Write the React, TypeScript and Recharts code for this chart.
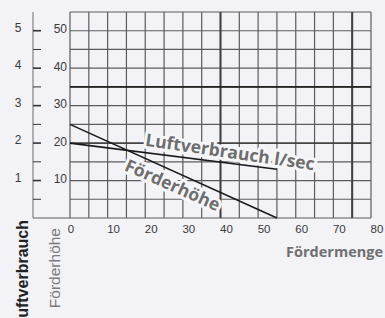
import { LineChart, Line, XAxis, YAxis, CartesianGrid, ReferenceLine, ReferenceDot } from 'recharts';

// Fördermenge axis (bottom), Förderhöhe axis (inner left), Luftverbrauch l/sec axis (outer left)
const flowTicks = [0, 5, 10, 15, 20, 25, 30, 35, 40, 45, 50, 55, 60, 65, 70, 75, 80];
const headTicks = [0, 5, 10, 15, 20, 25, 30, 35, 40, 45, 50, 55];
const airTicks = [0, 0.5, 1, 1.5, 2, 2.5, 3, 3.5, 4, 4.5, 5];

// curves
const flow = [0, 55];
const head = [25, 0];
const airUse = [2.0, 1.3];

// where the curve captions sit (Fördermenge, Förderhöhe)
const airCaption = { flow: 42.3, head: 16, angle: 8.3 };
const headCaption = { flow: 26.6, head: 7.3, angle: 24 };

const BG = '#f2f2f7';
const HALO = '#f6f6f9';
const GRID = '#5c5c5c';

const rows = flow.map((f, i) => ({ flow: f, head: head[i], air: airUse[i] }));

function FlowTick({ x, payload }: any) {
  const v = payload.value;
  if (v % 10 !== 0) return null;
  return (
    <text x={x + (v === 0 ? 1 : 6)} y={233} textAnchor="middle" fontSize={11.5} fill="#3a3a3a" fontFamily="Liberation Sans, Arial, sans-serif">
      {v}
    </text>
  );
}

function HeadTick({ y, payload }: any) {
  const v = payload.value;
  if (v % 10 !== 0 || v === 0) return null;
  return (
    <text x={67} y={y + 2.5} textAnchor="end" fontSize={12} fill="#3a3a3a" fontFamily="Liberation Sans, Arial, sans-serif">
      {v}
    </text>
  );
}

function AirTick({ y, payload }: any) {
  const v = payload.value;
  if (v === 0) return <line x1={33} x2={70} y1={y} y2={y} stroke={GRID} strokeWidth={1.2} />;
  const major = Number.isInteger(v);
  return (
    <g>
      <line x1={33} x2={41} y1={y} y2={y} stroke="#333" strokeWidth={major ? 1.6 : 1} />
      {major && (
        <text x={18} y={y + 1} textAnchor="middle" fontSize={12} fill="#3a3a3a" fontFamily="Liberation Sans, Arial, sans-serif">
          {v}
        </text>
      )}
    </g>
  );
}

function caption(text: string, angle: number) {
  return (props: any) => {
    const { viewBox } = props;
    const cx = viewBox.x + viewBox.width / 2;
    const cy = viewBox.y + viewBox.height / 2;
    return (
      <text
        x={cx}
        y={cy}
        transform={`rotate(${angle}, ${cx}, ${cy})`}
        textAnchor="middle"
        fontSize={17.5}
        fontWeight={700}
        fill="#6e6e6e"
        stroke={HALO}
        strokeWidth={6}
        strokeLinejoin="round"
        paintOrder="stroke"
        fontFamily="Open Sans, sans-serif"
      >
        {text}
      </text>
    );
  };
}

export default function App() {
  return (
    <div style={{ position: 'absolute', left: 0, top: 0, width: 385, height: 318, background: BG, overflow: 'hidden' }}>
      <LineChart width={385} height={318} data={rows} margin={{ top: 12, right: 14, bottom: 70, left: 0 }}>
        <CartesianGrid stroke={GRID} strokeWidth={1.2} />
        <XAxis
          dataKey="flow"
          type="number"
          domain={[0, 80]}
          ticks={flowTicks}
          interval={0}
          tick={<FlowTick />}
          tickLine={false}
          axisLine={false}
          height={30}
          label={{
            content: () => (
              <text x={383} y={257} textAnchor="end" fontSize={14.5} fontWeight={700} fill="#707070" fontFamily="Open Sans, sans-serif">
                Fördermenge
              </text>
            ),
          }}
        />
        <YAxis
          type="number"
          domain={[0, 55]}
          ticks={headTicks}
          interval={0}
          tick={<HeadTick />}
          tickLine={false}
          axisLine={false}
          width={37}
          label={{
            content: () => (
              <text transform="translate(60,228) rotate(-90)" textAnchor="end" fontSize={15.5} fill="#7a7a7a" fontFamily="Liberation Sans, Arial, sans-serif">
                Förderhöhe
              </text>
            ),
          }}
        />
        <YAxis
          yAxisId="air"
          type="number"
          domain={[0, 5.5]}
          ticks={airTicks}
          interval={0}
          tick={<AirTick />}
          tickLine={false}
          axisLine={{ stroke: '#999', strokeWidth: 1.5 }}
          width={33}
          label={{
            content: () => (
              <text transform="translate(28,220) rotate(-90)" textAnchor="end" fontSize={16} fontWeight={700} fill="#222" fontFamily="Liberation Sans, Arial, sans-serif">
                Luftverbrauch
              </text>
            ),
          }}
        />
        <ReferenceLine x={40} stroke="#404040" strokeWidth={2} />
        <ReferenceLine x={75} stroke="#404040" strokeWidth={2} />
        <ReferenceLine y={35} stroke="#222" strokeWidth={1.8} />
        <ReferenceLine y={20} stroke="#333" strokeWidth={1.4} />
        <ReferenceDot x={airCaption.flow} y={airCaption.head} r={1} fill="none" stroke="none" label={{ content: caption('Luftverbrauch l/sec', airCaption.angle) }} />
        <ReferenceDot x={headCaption.flow} y={headCaption.head} r={1} fill="none" stroke="none" label={{ content: caption('Förderhöhe', headCaption.angle) }} />
        <Line dataKey="head" stroke="#1a1a1a" strokeWidth={1.6} dot={false} isAnimationActive={false} />
        <Line yAxisId="air" dataKey="air" stroke="#1a1a1a" strokeWidth={1.6} dot={false} isAnimationActive={false} />
      </LineChart>
    </div>
  );
}
